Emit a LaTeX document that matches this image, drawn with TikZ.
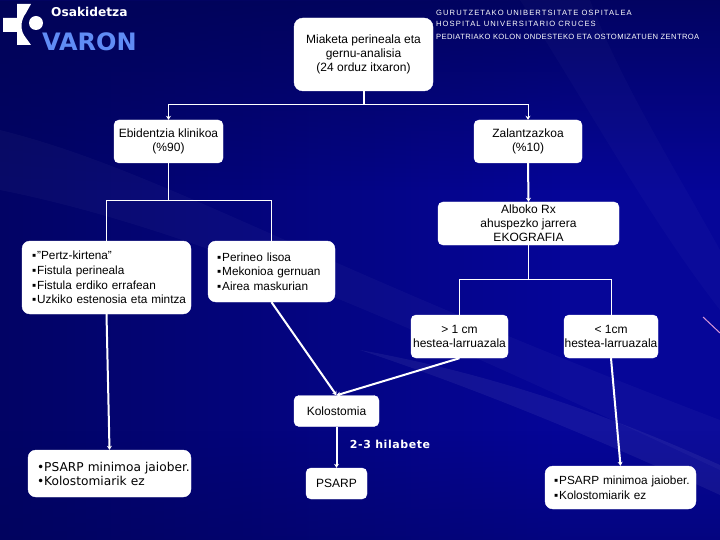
\documentclass[tikz,border=0pt]{standalone}
\usepackage{fontspec}
\setmainfont{Liberation Sans}
\newfontfamily\verafont{DejaVu Sans}
\newfontfamily\headfont[LetterSpace=14]{Liberation Sans}
\newfontfamily\headtight[LetterSpace=5]{Liberation Sans}
\newfontfamily\verawide[LetterSpace=5]{DejaVu Sans}
\usetikzlibrary{arrows.meta,positioning,calc,fadings}
\definecolor{bgdark}{RGB}{1,3,84}
\definecolor{bgblue}{RGB}{6,6,152}
\definecolor{varon}{RGB}{96,140,245}
\definecolor{stray}{RGB}{215,150,215}
\newcommand{\itm}[1][9pt]{\hspace*{#1}\char"25AA\kern1pt}
\tikzset{
  card/.style={draw=white, fill=white, rounded corners=5pt, inner sep=0pt, align=center, font=\fontsize{12}{14.2}\selectfont, text=black},
  lcard/.style={card, rounded corners=8pt, align=left, font=\fontsize{11.8}{14.6}\selectfont},
  link/.style={draw=white, line width=1pt},
  flow/.style={draw=white, line width=2pt, -{Stealth[length=4pt,width=5pt]}},
  swoosh/.style={fill=white, opacity=#1, draw=none},
  head/.style={text=white, inner sep=0pt, anchor=west, font=\fontsize{7.6}{9}\headfont},
}
\begin{document}
\begin{tikzpicture}[x=1pt,y=-1pt]
  \useasboundingbox (0,0) rectangle (720,540);
  % background
  \fill[bgblue] (0,0) rectangle (720,540);
  \fill[bgdark, path fading=east, opacity=.75] (0,0) rectangle (560,540);
  \fill[bgdark, path fading=south, opacity=.8] (0,0) rectangle (720,190);
  \fill[bgdark, path fading=north, opacity=.35] (0,430) rectangle (720,540);
  \fill[swoosh=.03] (0,130) .. controls (160,170) and (300,260) .. (720,420) -- (720,470) .. controls (420,330) and (200,230) .. (0,190) -- cycle;
  \fill[swoosh=.06] (360,350) .. controls (500,375) and (620,420) .. (720,465) -- (720,495) .. controls (600,440) and (480,390) .. (360,350) -- cycle;
  \fill[swoosh=.025] (520,0) .. controls (590,110) and (650,220) .. (720,310) -- (720,250) .. controls (670,160) and (620,80) .. (590,0) -- cycle;
  \draw[stray, line width=1pt] (703,317) -- (720,333);
  % logo
  \fill[white] (17,4) -- (31,4) -- (26,13) .. controls (20,21) and (20,31) .. (26,38) -- (31,45) -- (17,45) -- (17,32) -- (3,32) -- (3,18) -- (17,18) -- cycle;
  \fill[white] (36,23) circle (7);
  \node[text=white, inner sep=0pt, anchor=west, font=\fontsize{12.2}{14}\verafont\bfseries] (osakidetza) at (51,11.5) {Osakidetza};
  \node[text=varon, inner sep=0pt, anchor=west, font=\fontsize{24}{26}\verafont\bfseries] (varon) at (42,42) {VARON};
  % hospital header
  \node[head] (gurutz) at (436,13) {GURUTZETAKO UNIBERTSITATE OSPITALEA};
  \node[head] (hospital) at (436,24) {HOSPITAL UNIVERSITARIO CRUCES};
  \node[head, font=\fontsize{7.6}{9}\headtight] (pediatria) at (436,37) {PEDIATRIAKO KOLON ONDESTEKO ETA OSTOMIZATUEN ZENTROA};
  % boxes
  \node[card, rounded corners=9pt, minimum width=139pt, minimum height=73pt] (miaketa) at (363.5,54.5) {Miaketa perineala eta\\gernu-analisia\\(24 orduz itxaron)};
  \node[card, minimum width=109pt, minimum height=43pt] (ebidentzia) at (168.5,141.5) {Ebidentzia klinikoa\\(\%90)};
  \node[card, minimum width=108pt, minimum height=43pt] (zalantza) at (528,141.5) {Zalantzazkoa\\(\%10)};
  \node[card, minimum width=181pt, minimum height=43pt] (alboko) at (528.5,223.5) {Alboko Rx\\ahuspezko jarrera\\EKOGRAFIA};
  \node[lcard, minimum height=73pt, text width=169pt] (pertz) at (106.5,277.5) {\itm[10pt]"Pertz-kirtena"\\\itm[10pt]Fistula perineala\\\itm[10pt]Fistula erdiko errafean\\\itm[10pt]Uzkiko estenosia eta mintza};
  \node[lcard, minimum height=61pt, text width=127pt] (perineo) at (271.5,271.5) {\itm Perineo lisoa\\\itm Mekonioa gernuan\\\itm Airea maskurian};
  \node[card, minimum width=97pt, minimum height=43pt] (handi) at (459.5,336.5) {> 1 cm\\hestea-larruazala};
  \node[card, minimum width=94pt, minimum height=43pt] (txiki) at (611,336.5) {< 1cm\\hestea-larruazala};
  \node[card, minimum width=85pt, minimum height=31pt] (kolostomia) at (336.5,411) {Kolostomia};
  \node[lcard, minimum height=47pt, text width=163pt, font=\fontsize{12.2}{14}\verafont] (psarpa) at (109.5,473.5) {\hspace*{9pt}\textbullet{}PSARP minimoa jaiober.\\\hspace*{9pt}\textbullet{}Kolostomiarik ez};
  \node[card, minimum width=61pt, minimum height=31pt] (psarp) at (336.5,483.5) {PSARP};
  \node[lcard, minimum height=43pt, text width=151pt, font=\fontsize{11.8}{15}\selectfont] (psarpb) at (620.5,487.5) {\itm PSARP minimoa jaiober.\\\itm Kolostomiarik ez};
  \node[text=white, inner sep=0pt, font=\fontsize{11}{13}\verawide\bfseries] (hilabete) at (390,444.5) {2-3 hilabete};
  % connectors
  \coordinate (topbar) at (363.5,105);
  \coordinate (ebibar) at (168.5,201);
  \coordinate (albbar) at (528.5,279);
  \draw[link, line width=2pt] (miaketa.south) -- (topbar);
  \draw[link, -{Stealth[length=4pt,width=5pt]}] (topbar) -| (ebidentzia.north);
  \draw[link, -{Stealth[length=4pt,width=5pt]}] (topbar) -| (zalantza.north);
  \draw[link] (ebidentzia.south) -- (ebibar);
  \draw[link] (ebibar) -| (pertz.north);
  \draw[link] (ebibar) -| (perineo.north);
  \draw[flow] (zalantza.south) -- (alboko.north);
  \draw[link] (alboko.south) -- (albbar);
  \draw[link] (albbar) -| (handi.north);
  \draw[link] (albbar) -| (txiki.north);
  \draw[flow] (pertz.south) -- (psarpa.north);
  \draw[flow] (perineo.south) -- (kolostomia.north);
  \draw[flow] (handi.south) -- (kolostomia.north);
  \draw[flow] (txiki.south) -- (psarpb.north);
  \draw[flow] (kolostomia.south) -- (psarp.north);
\end{tikzpicture}
\end{document}
